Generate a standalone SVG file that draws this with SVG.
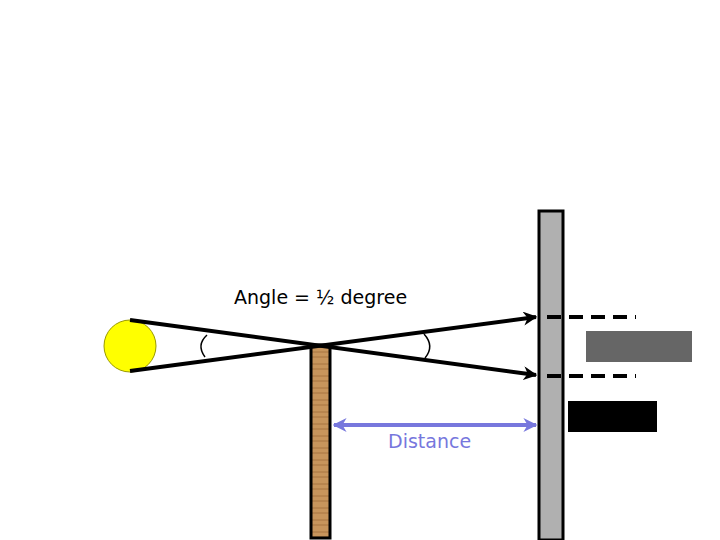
<svg xmlns="http://www.w3.org/2000/svg" width="720" height="540" viewBox="0 0 720 540">
<style>
.ray{stroke:#000;stroke-width:4;fill:none}
.dash{stroke:#000;stroke-width:4;stroke-dasharray:14,8}
.t{font-family:"DejaVu Sans","Liberation Sans",sans-serif;font-size:19px}
</style>
<defs>
<marker id="ah" markerWidth="8" markerHeight="8" refX="7" refY="4" orient="auto" markerUnits="userSpaceOnUse"><path d="M0,0L8,4L0,8z" fill="#000" transform="scale(1.6) translate(-3,-1.5)"/></marker>
<marker id="bk" viewBox="0 0 10 10" refX="9" refY="5" markerWidth="14" markerHeight="14" orient="auto" markerUnits="userSpaceOnUse"><path d="M0,0L10,5L0,10L3,5z" fill="#000"/></marker>
<marker id="bl" viewBox="0 0 10 10" refX="9" refY="5" markerWidth="14" markerHeight="14" orient="auto-start-reverse" markerUnits="userSpaceOnUse"><path d="M0,0L10,5L0,10L3,5z" fill="#7777dd"/></marker>
<pattern id="wood" width="19" height="12" patternUnits="userSpaceOnUse"><rect width="19" height="12" fill="#c8955c"/><path d="M0,4h19M0,9h19" stroke="#a9743f" stroke-width="1"/></pattern>
</defs>
<g id="sun"><circle cx="130" cy="346" r="26" fill="#ffff00" stroke="#999900" stroke-width="1"/></g>
<g id="post"><rect x="311" y="345" width="19" height="193" fill="url(#wood)" stroke="#000" stroke-width="3"/></g>
<g id="wall"><rect x="539" y="211" width="24" height="329" fill="#b0b0b0" stroke="#000" stroke-width="3"/></g>
<g id="shadows">
<rect x="586" y="331" width="106" height="31" fill="#666"/>
<rect x="568" y="401" width="89" height="31" fill="#000"/>
</g>
<g id="connectors">
<line class="ray" x1="130" y1="320" x2="536" y2="375" marker-end="url(#bk)"/>
<line class="ray" x1="130" y1="371" x2="536" y2="317" marker-end="url(#bk)"/>
<line class="dash" x1="547" y1="317" x2="636" y2="317"/>
<line class="dash" x1="547" y1="376" x2="636" y2="376"/>
<line x1="334" y1="425" x2="536" y2="425" stroke="#7777dd" stroke-width="4" marker-start="url(#bl)" marker-end="url(#bl)"/>
<path d="M207,335 Q196,345 205,357" fill="none" stroke="#000" stroke-width="1.5"/>
<path d="M424,334 Q435,346 425,358" fill="none" stroke="#000" stroke-width="1.5"/>
</g>
<g id="labels">
<text class="t" x="234" y="304">Angle = ½ degree</text>
<text class="t" x="388" y="448" fill="#7777dd">Distance</text>
</g>
</svg>
